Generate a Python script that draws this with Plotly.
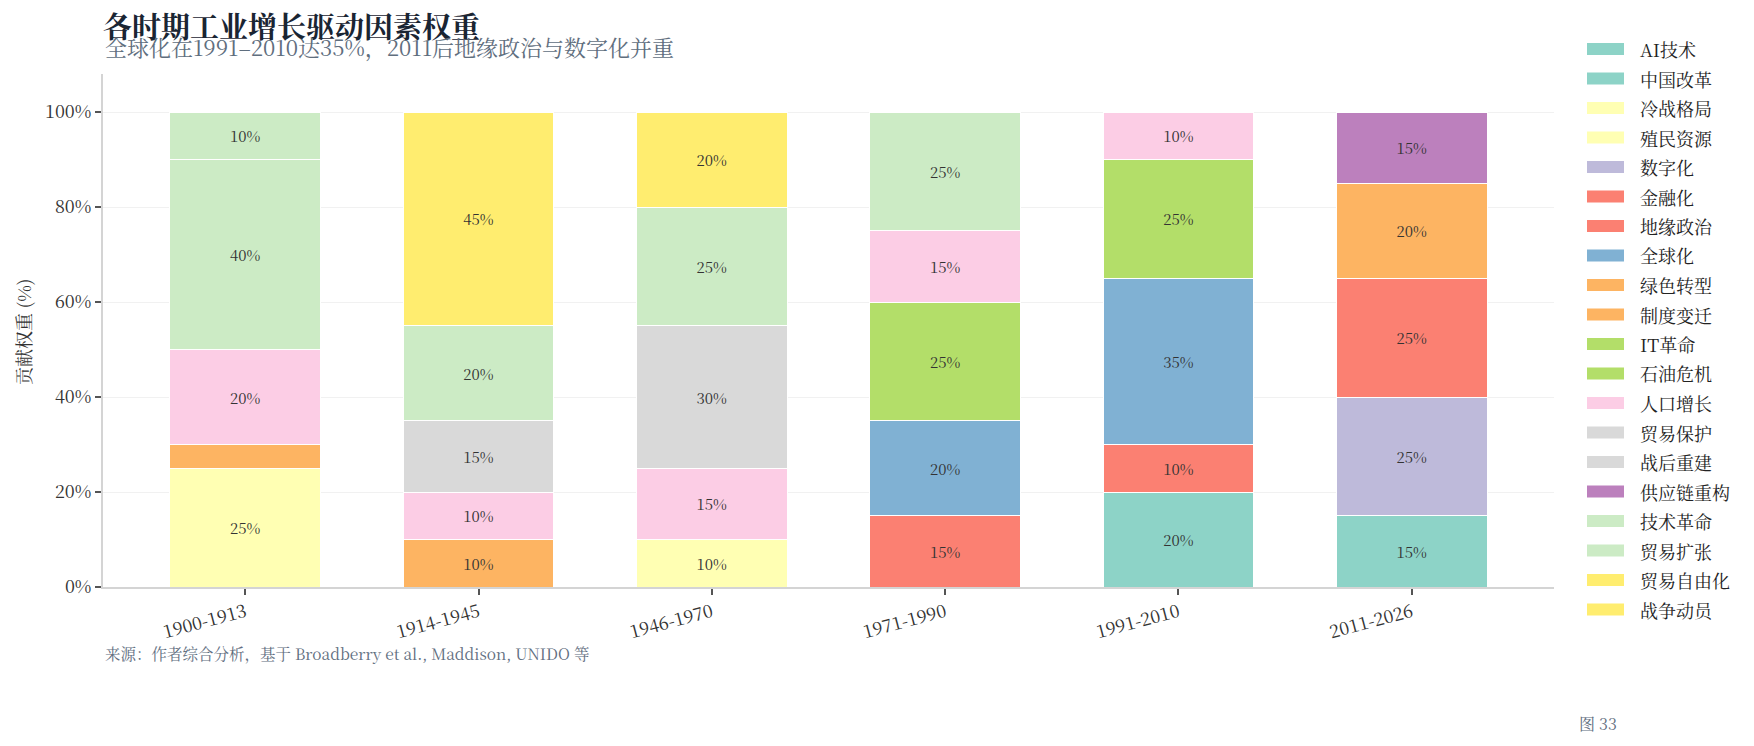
import plotly.graph_objects as go

# ---------------- data ----------------
PERIODS = ["1900-1913", "1914-1945", "1946-1970", "1971-1990", "1991-2010", "2011-2026"]

# drivers in legend / stacking order (bottom -> top within each bar)
DRIVERS = ["AI技术", "中国改革", "冷战格局", "殖民资源", "数字化", "金融化", "地缘政治",
           "全球化", "绿色转型", "制度变迁", "IT革命", "石油危机", "人口增长", "贸易保护",
           "战后重建", "供应链重构", "技术革命", "贸易扩张", "贸易自由化", "战争动员"]

DRIVER_COLORS = ["#8DD3C7", "#8DD3C7", "#FFFFB3", "#FFFFB3", "#BEBADA", "#FB8072", "#FB8072",
                 "#80B1D3", "#FDB462", "#FDB462", "#B3DE69", "#B3DE69", "#FCCDE5", "#D9D9D9",
                 "#D9D9D9", "#BC80BD", "#CCEBC5", "#CCEBC5", "#FFED6F", "#FFED6F"]

W_1900_1913 = {"殖民资源": 25, "制度变迁": 5, "人口增长": 20, "技术革命": 40, "贸易扩张": 10}
W_1914_1945 = {"制度变迁": 10, "人口增长": 10, "贸易保护": 15, "技术革命": 20, "战争动员": 45}
W_1946_1970 = {"冷战格局": 10, "人口增长": 15, "战后重建": 30, "技术革命": 25, "贸易自由化": 20}
W_1971_1990 = {"金融化": 15, "全球化": 20, "石油危机": 25, "人口增长": 15, "技术革命": 25}
W_1991_2010 = {"中国改革": 20, "金融化": 10, "全球化": 35, "IT革命": 25, "人口增长": 10}
W_2011_2026 = {"AI技术": 15, "数字化": 25, "地缘政治": 25, "绿色转型": 20, "供应链重构": 15}

WEIGHTS = [W_1900_1913, W_1914_1945, W_1946_1970, W_1971_1990, W_1991_2010, W_2011_2026]

Y_TICKS = [0, 20, 40, 60, 80, 100]

TITLE = "各时期工业增长驱动因素权重"
SUBTITLE = "全球化在1991–2010达35%，2011后地缘政治与数字化并重"
Y_TITLE = "贡献权重 (%)"
SOURCE = "来源：作者综合分析，基于 Broadberry et al., Maddison, UNIDO 等"
FIG_NO = "图 33"

# ---------------- style ----------------
FONT = "'Noto Serif CJK SC', 'Noto Serif SC', 'Source Han Serif SC', 'Liberation Serif', serif"
W, H = 1754, 746
L, R, T, B = 103, 200, 74, 159
PW, PH = W - L - R, H - T - B


def px_x(x):
    return (x - L) / PW


def px_y(y):
    return (H - B - y) / PH


fig = go.Figure()
for name, color in zip(DRIVERS, DRIVER_COLORS):
    vals = [w.get(name) for w in WEIGHTS]
    if all(v is None for v in vals):
        continue
    texts = [("%d%%" % v) if (v is not None and v >= 10) else "" for v in vals]
    fig.add_trace(go.Bar(
        x=PERIODS, y=vals, name=name, text=texts,
        textposition="inside", insidetextanchor="middle", textangle=0,
        textfont=dict(family=FONT, size=15, color="#333333"),
        marker=dict(color=color, line=dict(color="white", width=1)),
        showlegend=False, hoverinfo="x+y+name",
    ))

# custom legend (wide swatches)
shapes = []
annotations = []
for i, (name, color) in enumerate(zip(DRIVERS, DRIVER_COLORS)):
    cy = 49 + i * 29.5
    shapes.append(dict(type="rect", xref="paper", yref="paper",
                       x0=px_x(1587), x1=px_x(1624), y0=px_y(cy + 6), y1=px_y(cy - 6),
                       fillcolor=color, line=dict(width=0), layer="above"))
    annotations.append(dict(xref="paper", yref="paper", x=px_x(1638), y=px_y(cy),
                            xanchor="left", yanchor="middle", text=name, showarrow=False,
                            font=dict(family=FONT, size=18, color="#222222")))

annotations += [
    dict(xref="paper", yref="paper", x=0, y=px_y(46), xanchor="left", yanchor="middle",
         text=SUBTITLE, showarrow=False, font=dict(family=FONT, size=22, color="#5f6e7e")),
    dict(xref="paper", yref="paper", x=px_x(23), y=px_y(332), xanchor="center", yanchor="middle",
         text=Y_TITLE, textangle=-90, showarrow=False, font=dict(family=FONT, size=18, color="#333333")),
    dict(xref="paper", yref="paper", x=0, y=px_y(653), xanchor="left", yanchor="middle",
         text=SOURCE, showarrow=False, font=dict(family=FONT, size=15.5, color="#5f6e80")),
    dict(xref="paper", yref="paper", x=px_x(1577), y=px_y(723), xanchor="left", yanchor="middle",
         text=FIG_NO, showarrow=False, font=dict(family=FONT, size=16, color="#5f6e80")),
]

fig.update_layout(
    width=W, height=H,
    margin=dict(l=L, r=R, t=T, b=B, pad=0),
    barmode="stack", bargap=0.354,
    paper_bgcolor="white", plot_bgcolor="white",
    font=dict(family=FONT, size=16, color="#333333"),
    title=dict(text="<b>%s</b>" % TITLE, x=px_x(103), xref="paper", xanchor="left",
               y=1 - 28 / H, yref="container", yanchor="middle",
               font=dict(family=FONT, size=29, color="#1a2533")),
    showlegend=False,
    shapes=shapes,
    annotations=annotations,
    xaxis=dict(type="category", categoryorder="array", categoryarray=PERIODS,
               range=[-0.61, 5.61], showgrid=False, zeroline=False,
               showline=True, linecolor="#d4d4d4", linewidth=2,
               ticks="outside", ticklen=6, tickwidth=2, tickcolor="#555555",
               tickangle=-15, tickfont=dict(family=FONT, size=18, color="#333333")),
    yaxis=dict(range=[0, 108], tickvals=Y_TICKS, ticktext=["%d%%" % v for v in Y_TICKS],
               showgrid=True, gridcolor="#f1f1f1", gridwidth=1, zeroline=False,
               showline=True, linecolor="#d4d4d4", linewidth=2,
               ticks="outside", ticklen=6, tickwidth=2, tickcolor="#555555",
               tickfont=dict(family=FONT, size=18, color="#333333")),
)

fig.write_html("out.html")
